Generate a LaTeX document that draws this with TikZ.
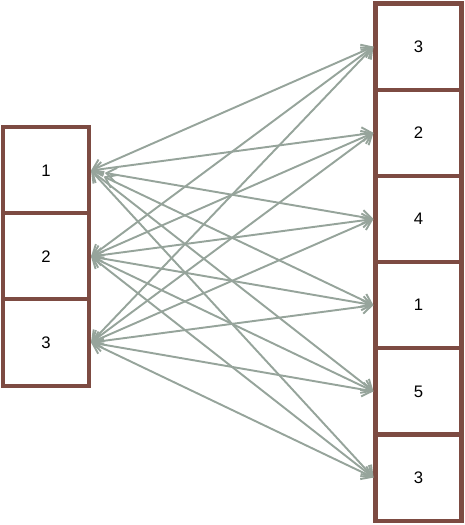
\documentclass[tikz,border=0pt]{standalone}
\usepackage{fontspec}
\setmainfont{Liberation Sans}
\usetikzlibrary{arrows.meta}

\definecolor{boxbrown}{RGB}{125,75,66}
\definecolor{linkgray}{RGB}{150,164,155}

\begin{document}
\begin{tikzpicture}[
  x=0.02cm, y=-0.02cm,
  % Node Styles
  cell/.style={rectangle, draw=boxbrown, line width=2.3pt, fill=white, minimum width=1.72cm, minimum height=1.724cm, inner sep=0pt, align=center, font=\fontsize{9.5}{11}\selectfont},
  % Arrow Styles
  link/.style={{Straight Barb[length=5.5pt,width=8pt]}-{Straight Barb[length=5.5pt,width=8pt]}, draw=linkgray, line width=1.1pt},
]
\useasboundingbox (0,0) rectangle (465,525);

% left column
\node[cell] (L1) at (46,170.5) {1};
\node[cell] (L2) at (46,256.5) {2};
\node[cell] (L3) at (46,342.5) {3};

% right column
\node[cell] (R1) at (418.5,46.6) {3};
\node[cell] (R2) at (418.5,132.8) {2};
\node[cell] (R3) at (418.5,219) {4};
\node[cell] (R4) at (418.5,305.2) {1};
\node[cell] (R5) at (418.5,391.4) {5};
\node[cell] (R6) at (418.5,477.6) {3};

\draw[link] (L1.east) -- (R1.west);
\draw[link] (L1.east) -- (R2.west);
\draw[link, shorten <=0.28cm] (L1.east) -- (R3.west);
\draw[link, shorten <=0.28cm] (L1.east) -- (R4.west);
\draw[link] (L1.east) -- (R5.west);
\draw[link] (L1.east) -- (R6.west);

\draw[link] (L2.east) -- (R1.west);
\draw[link] (L2.east) -- (R2.west);
\draw[link] (L2.east) -- (R3.west);
\draw[link] (L2.east) -- (R4.west);
\draw[link] (L2.east) -- (R5.west);
\draw[link] (L2.east) -- (R6.west);

\draw[link] (L3.east) -- (R1.west);
\draw[link] (L3.east) -- (R2.west);
\draw[link] (L3.east) -- (R3.west);
\draw[link] (L3.east) -- (R4.west);
\draw[link] (L3.east) -- (R5.west);
\draw[link] (L3.east) -- (R6.west);

\end{tikzpicture}
\end{document}
